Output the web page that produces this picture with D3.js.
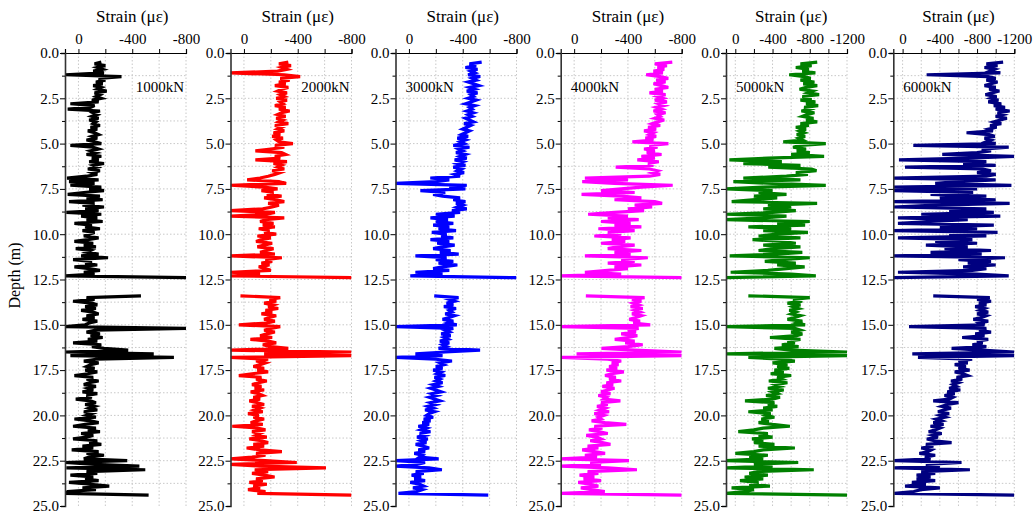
<!DOCTYPE html>
<html>
<head>
<meta charset="utf-8">
<script src="https://cdn.jsdelivr.net/npm/d3@7"></script>
<style>
  body { margin: 0; background: #fff; }
  svg { font-family: "Liberation Serif", "Times New Roman", serif; }
</style>
</head>
<body>
<div id="chart"></div>
<script>
// strain profiles along the pile, one panel per load step
// upper part: 0.5 m .. 12.4 m, lower part: 13.4 m .. 24.4 m, 0.1 m spacing

var loads = ["1000kN", "2000kN", "3000kN", "4000kN", "5000kN", "6000kN"];
var colors = ["#000000", "#ff0000", "#0000ff", "#ff00ff", "#008000", "#000080"];
var strainMax = [-800, -800, -800, -800, -1200, -1200];
var strainTicks = [[0, -400, -800], [0, -400, -800], [0, -400, -800], [0, -400, -800],
  [0, -400, -800, -1200], [0, -400, -800, -1200]];
var depthTicks = [0, 2.5, 5, 7.5, 10, 12.5, 15, 17.5, 20, 22.5, 25];

var up1000 = [
  -170,-120,-200,-140,-180,-110,-190,100,-320,-150,
  -200,-130,-180,-110,-170,-140,-210,-120,-160,-130,
  -170,-100,-150,60,-120,-90,80,-160,-110,-140,
  -100,-150,-80,-130,-110,-160,-90,-140,-70,-120,
  -150,-100,-140,-60,-120,-170,60,-110,-150,-90,
  -130,-60,-170,-100,-150,-80,-190,-110,-140,-70,
  -160,-100,-140,-60,85,-150,70,-120,60,-170,
  -80,-190,-40,80,-160,-60,-180,70,-120,-30,
  -190,-50,-150,90,-170,-20,-140,-60,-180,30,
  -100,-50,-160,-30,-120,-80,-40,-150,-70,30,
  -110,-40,-130,20,-90,-60,-150,-20,-220,40,
  -100,-50,-140,30,-80,-160,-40,-120,100,-800
];
var low1000 = [
  -465,-60,-120,40,-100,-140,-50,-130,-20,-110,
  -150,-60,-120,-30,-140,-80,-50,100,-800,-120,
  -60,-160,-90,-180,-70,-140,40,-170,-100,-190,
  -370,100,-560,60,-710,-130,-40,-150,-90,-60,
  -120,-50,-140,-70,30,-110,-60,-150,-80,-40,
  -130,-70,-110,-30,-140,-60,-100,20,-90,-130,
  -50,-120,-80,-140,-40,-100,-60,-130,30,-90,
  -150,-50,40,-130,-70,-160,-20,-110,-60,40,
  -140,-80,-170,-30,-110,50,-150,-60,-190,-80,
  -40,-363,100,-120,-453,90,-497,-60,-140,60,
  -110,-50,-150,70,-90,-229,-30,-130,80,100,
  -522
];

var up2000 = [
  -330,-260,-350,-280,-320,-250,100,-300,-418,-270,
  -340,-260,-310,-230,-330,-280,-250,-320,-270,-300,
  -240,-320,-270,-290,-230,-310,-260,-340,-280,-250,
  -310,-240,-290,-260,-330,-230,-280,-250,-300,-220,
  -270,-210,-290,-240,-260,-364,-230,-300,-200,-85,
  -280,-310,-230,-270,-85,-320,-220,-280,-250,-300,
  -210,-270,-230,-180,-120,-24,-260,-314,100,-150,
  -250,-130,-220,-170,-280,-150,-240,-300,-180,-260,
  -210,-140,100,-230,-170,100,-300,-160,-120,-220,
  -140,-230,-110,-190,-150,-240,-100,-200,-130,-90,
  -210,-150,-100,-220,-170,-120,-230,100,-282,-160,
  -210,-130,-190,-110,-160,-200,100,-120,100,-800
];
var low2000 = [
  26,-270,-190,-240,-150,-220,-180,-255,-160,-210,
  -130,-240,-190,-150,-230,-170,38,-270,-200,-150,
  -230,-170,-120,-210,-48,-180,-240,-140,-200,-330,
  100,-800,-150,-800,100,-180,-90,-160,-120,-70,
  -150,-100,-180,-60,38,-130,-90,-170,-110,-60,
  -130,-80,-150,-50,-110,-140,-70,-120,-40,-100,
  -150,-60,-120,-80,-140,-30,-110,-70,-150,-90,
  -50,-140,87,-100,-160,-60,-120,-90,-170,-40,
  -130,-180,-70,-150,-20,-120,-282,-90,-160,-60,
  100,-160,-393,100,-120,-610,-80,-180,-60,-150,
  -228,-90,-140,-40,-170,-70,-120,-30,-160,-100,
  -800
];

var up3000 = [
  -541,-450,-500,-420,-510,-460,-490,-440,-530,-470,
  -500,-440,-480,-520,-450,-490,-430,-510,-460,-480,
  -440,-500,-460,-420,-490,-450,-470,-430,-480,-440,
  -470,-420,-450,-480,-410,-460,-430,-400,-450,-420,
  -390,-440,-360,-420,-380,-410,-330,-450,-370,-400,
  -350,-420,-380,-430,-340,-400,-360,-420,-330,-390,
  -360,-410,-340,-380,-159,-300,-200,100,-430,-300,
  -420,-85,-270,-180,-250,-380,-330,-420,-350,-400,
  -360,-430,-320,-380,-200,-340,-160,-290,-200,-330,
  -180,-300,-220,-350,-170,-280,-240,-330,-160,-300,
  -210,-340,-250,-180,-310,-230,-370,-48,-280,-200,
  -330,-220,-360,-250,-180,-300,-48,-250,-10,-800
];
var low3000 = [
  -188,-369,-300,-340,-280,-330,-260,-350,-300,-320,
  -270,-340,-300,-250,-330,-290,-356,100,-330,-270,
  -300,-240,-310,-260,-290,-230,-300,-250,-280,-220,
  -529,-270,-48,-250,100,-200,-320,-230,-260,-200,
  -250,-180,-240,-210,-270,-190,-230,-200,-250,-180,
  -220,-160,-200,-240,-170,-210,-150,-190,-230,-160,
  -200,-140,-180,-120,-190,-150,-130,-180,-110,-160,
  -100,-150,-70,-130,-90,-160,-80,-120,-60,-140,
  -90,-130,-50,-110,-150,-70,-120,-40,-100,-80,
  -221,100,-120,-60,100,-150,-245,-50,-110,-20,
  -90,-40,-120,-10,-80,-110,-30,-100,-60,78,
  -590
];

var up4000 = [
  -730,-600,-690,-620,-670,-590,-660,-536,-640,-700,
  -610,-680,-590,-650,-700,-600,-660,-560,-680,-620,
  -660,-600,-690,-630,-670,-610,-650,-590,-680,-620,
  -640,-600,-670,-620,-580,-640,-550,-610,-520,-590,
  -560,-610,-530,-590,-433,-701,-560,-620,-520,-600,
  -540,-650,-500,-600,-470,-630,-550,-590,-309,-560,
  -620,-580,-640,-560,-80,-400,-60,-300,-733,-500,
  -350,-200,-450,-55,-350,-500,-300,-600,-654,-450,
  -580,-400,-520,-300,-104,-400,-250,-480,-200,-420,
  -300,-500,-180,-450,-250,-350,-150,-420,-280,-380,
  -200,-450,-320,-250,-500,-300,-420,-80,-548,-350,
  -450,-250,-500,-300,-400,-250,-80,-350,100,-800
];
var low4000 = [
  -87,-524,-430,-500,-440,-480,-420,-510,-450,-490,
  -430,-500,-460,-410,-490,-440,-566,100,-480,-400,
  -460,-350,-470,-400,-302,-450,-380,-510,-400,-203,
  -450,-800,-18,-800,100,-250,-350,-280,-330,-260,
  -320,-240,-370,-280,-230,-310,-260,-350,-240,-290,
  -210,-300,-250,-200,-270,-180,-240,-220,-344,-200,
  -250,-170,-230,-190,-260,-150,-220,-180,-200,-130,
  -230,-388,-150,-210,-110,-190,-250,-90,-170,-200,
  -120,-210,-270,-100,-180,-60,-150,-230,-80,-170,
  100,-408,-120,-200,100,-250,-467,-100,-180,-40,
  -150,-70,-200,-30,-120,-180,-50,-130,-228,100,
  -800
];

var up5000 = [
  -880,-700,-820,-650,-790,-720,-860,-579,-740,-810,
  -700,-850,-730,-880,-760,-690,-830,-780,-900,-720,
  -820,-700,-860,-760,-890,-740,-800,-710,-850,-770,
  -720,-840,-760,-880,-700,-790,-650,-760,-690,-740,
  -660,-750,-680,-720,-515,-972,-700,-620,-760,-660,
  -800,-600,-954,-350,64,-500,-86,-700,-354,-820,
  -872,-650,-780,-550,-86,-700,21,-400,-972,-300,
  100,-400,-250,-550,-200,-450,-180,39,-879,-350,
  -600,-300,-650,-400,100,-550,-300,100,-800,-450,
  -750,-140,-600,-300,-780,-450,-250,-700,-185,-500,
  -650,-300,-700,-400,-250,-720,-450,60,-800,-500,
  -317,-650,-450,-745,-550,-350,50,-600,-865,100
];
var low5000 = [
  -140,-800,-620,-720,-560,-700,-620,-680,-580,-650,
  -600,-700,-640,-560,-720,-660,-750,100,-640,-700,
  -600,-720,-660,-372,-700,-560,-640,-500,-680,-420,
  -600,-1200,100,-1200,-140,-500,-640,-400,-560,-450,
  -580,-420,-520,-380,-600,-450,-500,-360,-560,-430,
  -480,-350,-520,-400,-450,-330,-480,-400,-104,-420,
  -350,-450,-300,-400,-140,-380,-330,-420,-280,-360,
  -250,-400,-586,-300,-200,-32,-350,-250,-400,-180,
  -300,-200,-420,-250,-640,-300,-200,0,-350,-150,
  -300,100,-676,-200,-400,100,-843,-250,-150,-350,
  -100,-300,-50,-250,-150,-372,40,-200,-100,100,
  -1200
];

var up6000 = [
  -1080,-900,-1020,-880,-990,-940,-1050,-258,-920,-1000,
  -900,-1020,-950,-880,-1000,-930,-1040,-960,-890,-1010,
  -950,-1030,-920,-1060,-980,-1100,-1000,-1150,-1020,-1080,
  -1000,-1120,-1050,-980,-1060,-940,-1010,-920,-970,-687,
  -930,-990,-880,-950,-900,-1000,-115,-1140,-850,-950,
  -800,-426,-1200,-700,39,-900,-650,-1000,-26,-850,
  -950,-800,-1000,-900,100,-1000,-600,-350,-1169,100,
  -800,100,-758,-300,-900,-400,-1000,100,-1150,-350,
  100,-900,-500,-980,-200,-1050,50,-700,-300,50,
  -980,-400,-800,100,-1020,-500,-900,50,-750,-350,
  -800,-250,-700,-450,-950,-300,-850,100,-1100,-600,
  -950,-700,-1000,-650,-900,-750,50,-800,-1140,100
];
var low6000 = [
  -329,-937,-800,-950,-820,-900,-780,-880,-830,-920,
  -800,-900,-850,-760,-920,-830,-880,-69,-900,-820,
  -950,-780,-880,-640,-920,-800,-860,-750,-900,-526,
  -850,-1200,-104,-1200,-165,-747,-600,-700,-560,-680,
  -600,-720,-560,-650,-700,-580,-640,-520,-600,-540,
  -580,-500,-620,-480,-560,-450,-540,-500,-329,-600,
  -480,-420,-520,-440,-380,-500,-400,-460,-360,-420,
  -330,-440,-300,-400,-350,-280,-420,-320,-380,-260,
  -340,-526,-250,-330,-200,-310,-270,-180,-350,-240,
  -300,89,-633,-250,-400,89,-723,-200,-350,-150,
  -300,-150,-350,-100,-250,-26,-400,-200,-120,89,
  -1200
];

var upper = [up1000, up2000, up3000, up4000, up5000, up6000];
var lower = [low1000, low2000, low3000, low4000, low5000, low6000];

// gauge depths: upper starts at 0.5 m, lower at 13.4 m, 0.1 m apart
function withDepth(vals, start) {
  return vals.map(function(v, i) { return { depth: +(start + 0.1 * i).toFixed(1), strain: v }; });
}

var width = 1035;
var height = 516;
var panelLeft = [65, 230.5, 395.5, 560.7, 726, 893.3];
var panelWidth = 121;
var plotTop = 53, plotBottom = 506;

var svg = d3.select("#chart")
  .append("svg")
    .attr("width", width)
    .attr("height", height);

var y = d3.scaleLinear().domain([0, 25]).range([plotTop, plotBottom]);

svg.append("text")
  .attr("transform", "translate(20," + ((plotTop + plotBottom) / 2 - 4) + ") rotate(-90)")
  .attr("text-anchor", "middle")
  .attr("font-size", 16)
  .text("Depth (m)");

loads.forEach(function(load, p) {
  var left = panelLeft[p];
  var x = d3.scaleLinear().domain([100, strainMax[p]]).range([left, left + panelWidth]);
  var g = svg.append("g");

  // dotted grid
  var gridX = d3.range(0, strainMax[p] - 1, -200);
  g.selectAll(".vgrid").data(gridX).enter().append("line")
    .attr("x1", function(d) { return x(d); })
    .attr("x2", function(d) { return x(d); })
    .attr("y1", plotTop).attr("y2", plotBottom)
    .attr("stroke", "#c8c8c8").attr("stroke-width", 1)
    .attr("stroke-dasharray", "1.5,2");
  var gridY = d3.range(1.25, 25, 1.25);
  g.selectAll(".hgrid").data(gridY).enter().append("line")
    .attr("x1", left).attr("x2", left + panelWidth)
    .attr("y1", function(d) { return y(d); })
    .attr("y2", function(d) { return y(d); })
    .attr("stroke", "#c8c8c8").attr("stroke-width", 1)
    .attr("stroke-dasharray", "1.5,2");

  // traces
  var clipId = "clip" + p;
  svg.append("clipPath").attr("id", clipId)
    .append("rect")
      .attr("x", left).attr("y", plotTop - 2)
      .attr("width", panelWidth).attr("height", plotBottom - plotTop + 4);

  var line = d3.line()
    .x(function(d) { return x(d.strain); })
    .y(function(d) { return y(d.depth); });

  [withDepth(upper[p], 0.5), withDepth(lower[p], 13.4)].forEach(function(seg) {
    g.append("path")
      .datum(seg)
      .attr("clip-path", "url(#" + clipId + ")")
      .attr("fill", "none")
      .attr("stroke", colors[p])
      .attr("stroke-width", 3.2)
      .attr("stroke-linejoin", "miter")
      .attr("d", line);
  });

  // top axis
  var topAxis = g.append("g")
    .attr("transform", "translate(0," + plotTop + ")")
    .call(d3.axisTop(x)
      .tickValues(d3.range(0, strainMax[p] - 1, -200))
      .tickSizeOuter(0)
      .tickSize(4)
      .tickFormat(function(d) { return strainTicks[p].indexOf(d) >= 0 ? String(d) : ""; }));
  topAxis.selectAll("text").attr("font-size", 15).attr("font-family", "Liberation Serif").attr("fill", "#000").attr("dy", "-0.15em");
  topAxis.selectAll("line").attr("stroke", "#000");
  topAxis.select(".domain").attr("stroke", "#000").attr("stroke-width", 1.2);

  // left axis
  var leftAxis = g.append("g")
    .attr("transform", "translate(" + left + ",0)")
    .call(d3.axisLeft(y)
      .tickValues(d3.range(0, 25.01, 1.25))
      .tickSizeOuter(0)
      .tickSize(4)
      .tickFormat(function(d) { return depthTicks.indexOf(d) >= 0 ? d3.format(".1f")(d) : ""; }));
  leftAxis.selectAll("text").attr("font-size", 15).attr("font-family", "Liberation Serif").attr("fill", "#000").attr("x", -6);
  leftAxis.selectAll(".tick line")
    .attr("stroke", "#000")
    .attr("x2", function(d) { return depthTicks.indexOf(d) >= 0 ? -5 : -3; });
  leftAxis.select(".domain").attr("stroke", "#333").attr("stroke-width", 1.6);

  // title
  g.append("text")
    .attr("x", (x(0) + x(strainMax[p])) / 2)
    .attr("y", 22)
    .attr("text-anchor", "middle")
    .attr("font-size", 17)
    .text("Strain (\u03bc\u03b5)");

  // load label
  var rightSide = p < 2;
  g.append("text")
    .attr("x", rightSide ? left + panelWidth - 2 : left + 10)
    .attr("y", 92)
    .attr("text-anchor", rightSide ? "end" : "start")
    .attr("font-size", 15)
    .text(load);
});
</script>
</body>
</html>
